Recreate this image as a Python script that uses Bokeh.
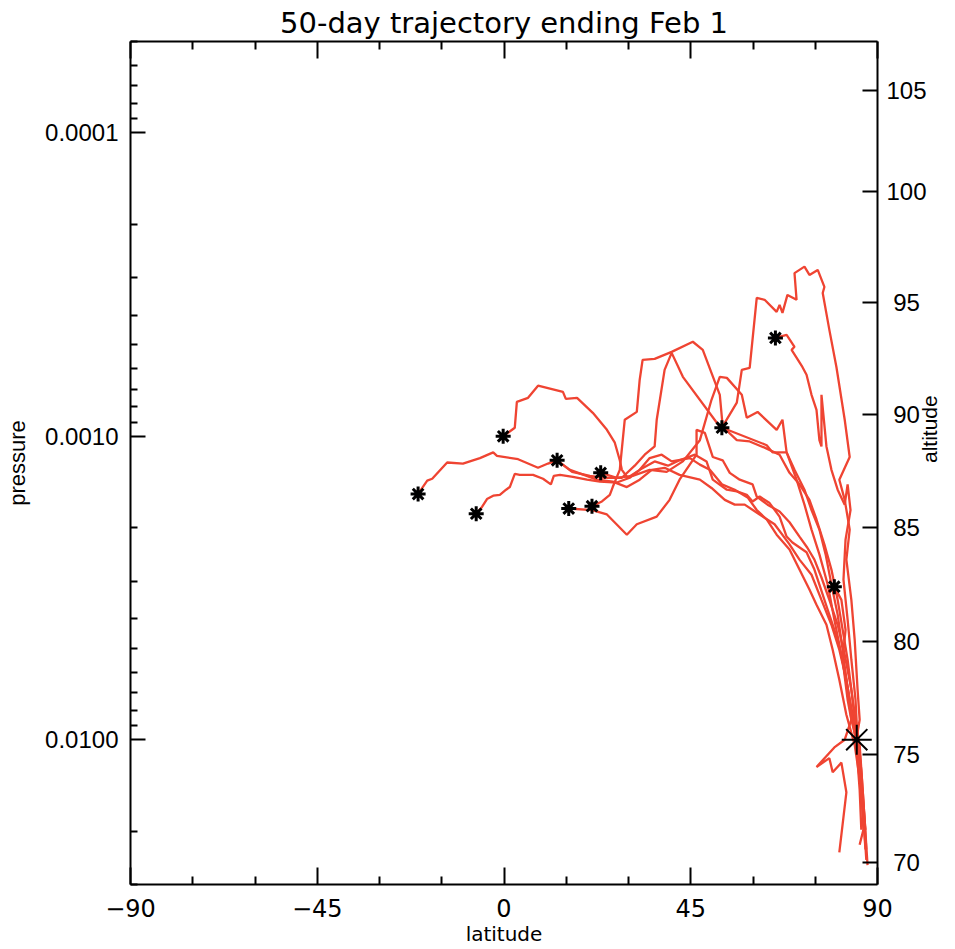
import math
from bokeh.plotting import figure
from bokeh.models import Range1d, LinearAxis, LogAxis, FixedTicker, PrintfTickFormatter
from bokeh.embed import file_html
from bokeh.resources import INLINE

# ---------------- data (latitude in degrees, pressure in hPa) ----------------
traj_a_lat = [-20.7, -19.7, -18.5, -17.3, -13.7, -9.9, -5.8, -2.6, -1.7, 3.4, 8.2, 10.6, 12.8, 15.9, 22.4,
              26.2, 29.6, 32.7, 35.6, 38.7, 42.3, 47.2, 50.0, 53.2, 55.6, 58.0, 61.6, 65.2, 68.8, 71.2,
              74.1, 76.5, 78.9, 80.8, 82.5, 83.7, 84.9]
traj_a_p = [1.55e-3, 1.48e-3, 1.40e-3, 1.38e-3, 1.22e-3, 1.23e-3, 1.18e-3, 1.13e-3, 1.16e-3, 1.19e-3,
            1.27e-3, 1.23e-3, 1.20e-3, 1.29e-3, 1.39e-3, 1.41e-3, 1.47e-3, 1.39e-3, 1.29e-3, 1.27e-3,
            1.34e-3, 1.39e-3, 1.48e-3, 1.62e-3, 1.68e-3, 1.68e-3, 1.81e-3, 1.95e-3, 2.27e-3, 2.55e-3,
            2.86e-3, 3.46e-3, 4.18e-3, 5.05e-3, 6.34e-3, 7.96e-3, 1.00e-2]

traj_b_lat = [-6.7, -5.3, -4.1, -2.6, -1.0, 0.5, 1.4, 2.6, 3.8, 7.0, 9.4, 11.3, 12.0, 13.5, 16.6,
              20.0, 23.1, 27.2, 30.3, 32.7, 36.3, 39.5, 42.3, 46.0, 48.8, 50.3, 53.7, 56.1, 58.5, 59.9,
              61.6, 64.0, 66.4, 68.1, 69.5, 72.9, 74.8, 76.0, 78.0, 80.4, 82.1, 83.3, 84.5, 85.7, 86.4, 87.3]
traj_b_p = [1.80e-3, 1.71e-3, 1.61e-3, 1.57e-3, 1.56e-3, 1.50e-3, 1.47e-3, 1.33e-3, 1.34e-3, 1.34e-3,
            1.38e-3, 1.44e-3, 1.35e-3, 1.34e-3, 1.36e-3, 1.39e-3, 1.41e-3, 1.42e-3, 1.37e-3, 1.29e-3,
            1.21e-3, 1.25e-3, 1.20e-3, 1.15e-3, 1.21e-3, 1.39e-3, 1.50e-3, 1.52e-3, 1.56e-3, 1.64e-3,
            1.58e-3, 1.66e-3, 1.84e-3, 2.14e-3, 2.24e-3, 2.41e-3, 2.75e-3, 3.08e-3, 3.73e-3, 4.68e-3,
            5.88e-3, 7.38e-3, 8.92e-3, 1.079e-2, 1.58e-2, 2.49e-2]

traj_c_lat = [-0.2, 2.6, 3.1, 5.8, 8.2, 14.2, 14.9, 17.6, 21.4, 24.8, 26.7, 27.9, 28.4, 29.8, 32.7,
              35.1, 38.0, 40.4, 44.8, 47.2, 49.6, 52.5, 55.6, 58.7, 60.9, 63.3, 65.7, 68.8, 71.2, 73.6,
              75.3, 77.7, 79.2, 80.8, 82.5, 84.5, 86.1, 87.1]
traj_c_p = [1.00e-3, 9.37e-4, 7.70e-4, 7.47e-4, 6.81e-4, 7.14e-4, 7.53e-4, 7.47e-4, 8.37e-4, 9.52e-4,
            1.05e-3, 1.20e-3, 1.29e-3, 1.37e-3, 1.29e-3, 1.18e-3, 1.15e-3, 1.21e-3, 1.18e-3, 1.24e-3,
            1.29e-3, 1.44e-3, 1.50e-3, 1.59e-3, 1.75e-3, 1.88e-3, 2.11e-3, 2.36e-3, 2.75e-3, 3.20e-3,
            3.59e-3, 4.18e-3, 5.05e-3, 6.34e-3, 8.27e-3, 1.04e-2, 1.46e-2, 2.30e-2]

traj_d_lat = [12.8, 16.4, 20.7, 24.3, 28.4, 31.5, 33.9, 36.3, 36.8, 38.7, 40.4, 43.1, 52.0, 63.3, 64.7,
              68.1, 70.0, 72.4, 74.1, 76.0, 77.5, 78.9, 80.4, 81.6, 82.8, 83.7, 82.1, 79.6, 75.3, 78.4,
              79.2, 81.3, 82.5, 80.8]
traj_d_p = [1.20e-3, 1.31e-3, 1.35e-3, 1.37e-3, 1.37e-3, 1.25e-3, 1.15e-3, 1.08e-3, 8.82e-4, 6.04e-4,
            5.31e-4, 6.37e-4, 9.30e-4, 1.07e-3, 1.13e-3, 1.13e-3, 1.29e-3, 1.50e-3, 1.75e-3, 2.03e-3,
            2.45e-3, 3.08e-3, 3.87e-3, 5.05e-3, 6.84e-3, 8.59e-3, 1.00e-2, 1.06e-2, 1.23e-2, 1.15e-2,
            1.28e-2, 1.19e-2, 1.49e-2, 2.35e-2]

traj_e_lat = [15.6, 21.2, 24.8, 29.6, 32.0, 36.8, 39.9, 42.3, 46.4, 46.4, 48.4, 50.3, 52.7, 54.4, 56.8,
              59.9, 60.9, 63.5, 66.4, 68.8, 71.2, 73.1, 74.8, 76.5, 78.4, 80.4, 82.1, 83.7, 84.5, 85.2,
              86.1, 86.9, 87.6]
traj_e_p = [1.73e-3, 1.75e-3, 1.81e-3, 2.11e-3, 1.95e-3, 1.84e-3, 1.62e-3, 1.39e-3, 1.15e-3, 9.52e-4,
            9.74e-4, 1.17e-3, 1.20e-3, 1.32e-3, 1.39e-3, 1.44e-3, 1.58e-3, 1.68e-3, 1.77e-3, 1.92e-3,
            2.14e-3, 2.33e-3, 2.55e-3, 2.92e-3, 3.46e-3, 4.18e-3, 5.25e-3, 6.84e-3, 8.59e-3, 1.00e-2,
            1.26e-2, 1.84e-2, 2.59e-2]

traj_f_lat = [21.2, 23.6, 25.5, 26.2, 27.9, 29.1, 32.0, 32.7, 33.4, 36.3, 40.4, 45.5, 47.9, 52.0, 52.7,
              56.1, 59.2, 62.8, 66.4, 68.8, 71.2, 73.6, 75.3, 77.2, 78.9, 80.4, 81.6, 82.8, 83.7, 84.7,
              85.7, 86.6, 87.3]
traj_f_p = [1.70e-3, 1.64e-3, 1.56e-3, 1.47e-3, 1.29e-3, 8.82e-4, 8.31e-4, 6.51e-4, 5.60e-4, 5.56e-4,
            5.27e-4, 4.88e-4, 5.19e-4, 7.30e-4, 9.30e-4, 1.03e-3, 1.04e-3, 1.09e-3, 1.15e-3, 1.32e-3,
            1.44e-3, 1.62e-3, 1.88e-3, 2.27e-3, 2.75e-3, 3.46e-3, 4.34e-3, 5.45e-3, 6.84e-3, 8.59e-3,
            1.04e-2, 1.58e-2, 2.30e-2]

traj_g_lat = [23.3, 27.2, 31.0, 35.1, 39.2, 43.1, 47.2, 50.0, 52.0, 53.7, 57.3, 58.5, 61.1, 65.7, 67.1,
              68.1, 70.5, 72.4, 74.1, 76.0, 78.0, 79.6, 81.3, 82.8, 84.0, 84.9, 85.7, 86.1]
traj_g_p = [1.32e-3, 1.37e-3, 1.35e-3, 1.29e-3, 1.31e-3, 1.21e-3, 1.03e-3, 7.58e-4, 6.37e-4, 6.42e-4,
            7.30e-4, 8.69e-4, 8.31e-4, 9.52e-4, 8.82e-4, 1.13e-3, 1.39e-3, 1.68e-3, 2.03e-3, 2.45e-3,
            3.08e-3, 4.02e-3, 5.25e-3, 6.84e-3, 8.59e-3, 1.04e-2, 1.46e-2, 1.98e-2]

traj_h_lat = [52.5, 56.1, 57.3, 59.2, 60.9, 62.8, 65.7, 66.4, 67.1, 68.3, 70.5, 70.0, 72.4, 73.6, 75.6,
              77.2, 76.8, 78.4, 80.1, 82.1, 83.3, 80.8, 82.1, 83.3, 82.5, 83.7, 84.5, 85.2, 85.7, 84.9]
traj_h_p = [9.37e-4, 7.75e-4, 6.04e-4, 5.95e-4, 3.50e-4, 3.55e-4, 3.89e-4, 3.69e-4, 3.92e-4, 3.42e-4,
            3.55e-4, 2.90e-4, 2.76e-4, 2.94e-4, 2.83e-4, 3.22e-4, 3.37e-4, 4.46e-4, 5.91e-4, 8.82e-4,
            1.17e-3, 1.39e-3, 1.62e-3, 2.03e-3, 2.55e-3, 3.46e-3, 4.68e-3, 6.84e-3, 8.59e-3, 1.00e-2]

traj_i_lat = [65.4, 68.1, 70.0, 69.3, 71.9, 72.9, 74.1, 75.3, 76.0, 76.5, 76.5, 77.7, 78.9, 80.4, 82.1,
              82.8, 83.5, 82.3, 81.8, 82.8, 83.7, 84.7, 85.2, 86.1, 87.1]
traj_i_p = [4.74e-4, 4.63e-4, 5.07e-4, 5.19e-4, 5.91e-4, 6.27e-4, 7.30e-4, 8.18e-4, 1.03e-3, 1.08e-3,
            7.30e-4, 1.08e-3, 1.29e-3, 1.50e-3, 1.68e-3, 1.44e-3, 1.75e-3, 2.19e-3, 2.97e-3, 4.02e-3,
            5.45e-3, 7.38e-3, 1.00e-2, 1.36e-2, 1.98e-2]

traj_j_lat = [79.6, 81.3, 82.3, 81.6, 82.8, 83.7, 85.2, 86.1, 86.6, 85.7]
traj_j_p = [3.13e-3, 3.46e-3, 4.34e-3, 5.45e-3, 7.38e-3, 8.59e-3, 1.04e-2, 1.46e-2, 1.98e-2, 2.22e-2]

end_lat = [85.0]
end_p = [1.00e-2]

lat_ticks = [-90, -45, 0, 45, 90]
lat_minor_ticks = [-75, -60, -30, -15, 15, 30, 60, 75]
lat_tick_labels = {-90: "\u221290", -45: "\u221245", 0: "0", 45: "45", 90: "90"}
pressure_ticks = [1e-4, 1e-3, 1e-2]
altitude_labels = ["70", "75", "80", "85", "90", "95", "100", "105"]
altitude_pressure = [2.54e-2, 1.12e-2, 4.75e-3, 2.00e-3, 8.50e-4, 3.63e-4, 1.56e-4, 7.26e-5]

trajectories = [(traj_a_lat, traj_a_p), (traj_b_lat, traj_b_p), (traj_c_lat, traj_c_p),
                (traj_d_lat, traj_d_p), (traj_e_lat, traj_e_p), (traj_f_lat, traj_f_p),
                (traj_g_lat, traj_g_p), (traj_h_lat, traj_h_p), (traj_i_lat, traj_i_p),
                (traj_j_lat, traj_j_p)]
start_lat = [t[0][0] for t in trajectories]
start_p = [t[1][0] for t in trajectories]

# ---------------- figure ----------------
HERSHEY = "DejaVu Sans"
HELV = "Liberation Sans"
RED = "#EF4432"

p = figure(width=955, height=948, x_range=Range1d(-90, 90), y_range=Range1d(0.03, 5e-5),
           y_axis_type="log", output_backend="svg", toolbar_location=None,
           min_border_left=130, min_border_right=78, min_border_top=41, min_border_bottom=64)
p.outline_line_color = None
p.xgrid.visible = False
p.ygrid.visible = False
p.background_fill_color = "white"
p.border_fill_color = "white"

p.title.text = "50-day trajectory ending Feb 1"
p.title.align = "center"
p.title.vertical_align = "top"
p.title.standoff = 0
p.title.text_font = HERSHEY
p.title.text_font_size = "29px"
p.title.text_font_style = "normal"
p.title.text_color = "black"

# bottom axis
xa = p.xaxis[0]
xa.ticker = FixedTicker(ticks=lat_ticks, minor_ticks=lat_minor_ticks)
xa.major_label_overrides = lat_tick_labels
xa.axis_label = "latitude"
xa.major_tick_in = 17
xa.major_tick_out = 0
xa.minor_tick_in = 8
xa.minor_tick_out = 0
xa.major_label_standoff = 14
xa.axis_label_standoff = 2
xa.major_label_text_font = HERSHEY
xa.major_label_text_font_size = "24px"
xa.axis_label_text_font = HERSHEY
xa.axis_label_text_font_size = "20px"
xa.axis_label_text_font_style = "normal"

# top axis (ticks only)
top = LinearAxis(ticker=FixedTicker(ticks=lat_ticks, minor_ticks=lat_minor_ticks),
                 major_tick_in=17, major_tick_out=0, minor_tick_in=8, minor_tick_out=0,
                 major_label_text_color=None, major_label_text_font_size="0px",
                 major_label_standoff=0)
p.add_layout(top, "above")

# left pressure axis
minor_p = [k * 10.0 ** e for e in (-5, -4, -3, -2) for k in range(2, 10)]
ya = p.yaxis[0]
ya.ticker = FixedTicker(ticks=pressure_ticks, minor_ticks=minor_p)
ya.formatter = PrintfTickFormatter(format="%.4f")
ya.axis_label = "pressure"
ya.major_tick_in = 15
ya.major_tick_out = 0
ya.minor_tick_in = 7
ya.minor_tick_out = 0
ya.major_label_standoff = 12
ya.axis_label_standoff = 12
ya.major_label_text_font = HELV
ya.major_label_text_font_size = "24px"
ya.axis_label_text_font = HELV
ya.axis_label_text_font_size = "22px"
ya.axis_label_text_font_style = "normal"

# right altitude axis
alt_overrides = {pv: ("\u2008" + lab if len(lab) == 2 else lab)
                 for pv, lab in zip(altitude_pressure, altitude_labels)}
ra = LogAxis(ticker=FixedTicker(ticks=altitude_pressure, minor_ticks=[]),
             major_label_overrides=alt_overrides,
             axis_label="altitude",
             major_tick_in=15, major_tick_out=0, minor_tick_in=0, minor_tick_out=0,
             major_label_standoff=9, axis_label_standoff=0,
             major_label_text_font=HELV, major_label_text_font_size="24px",
             axis_label_text_font=HELV, axis_label_text_font_size="21px",
             axis_label_text_font_style="normal")
try:
    ra.axis_label_orientation = math.pi / 2
except Exception:
    pass
p.add_layout(ra, "right")

for ax in [xa, top, ya, ra]:
    ax.axis_line_width = 2
    ax.axis_line_color = "black"
    ax.major_tick_line_width = 2
    ax.minor_tick_line_width = 2
    ax.major_tick_line_color = "black"
    ax.minor_tick_line_color = "black"
    ax.major_label_text_color = "black" if ax is not top else None
    ax.axis_label_text_color = "black"

# ---------------- glyphs ----------------
for lat, pr in trajectories:
    p.line(lat, pr, line_color=RED, line_width=2.3)

p.scatter(start_lat, start_p, marker="asterisk", size=15, line_color="black", line_width=3)
p.scatter(end_lat, end_p, marker="asterisk", size=30, line_color="black", line_width=2)

open("out.html", "w").write(file_html(p, INLINE))
